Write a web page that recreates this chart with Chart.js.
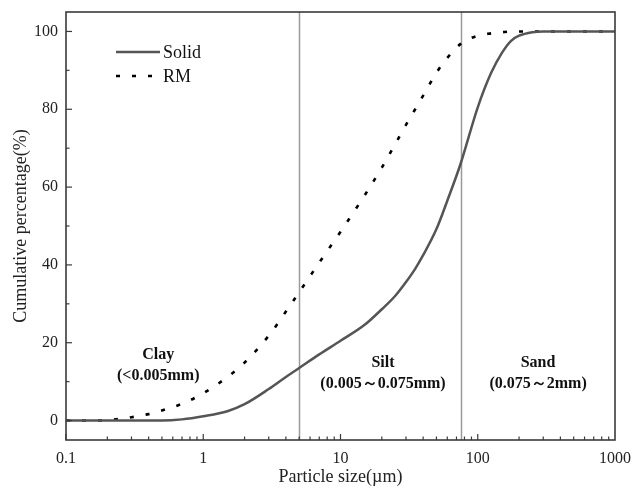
<!DOCTYPE html>
<html>
<head>
<meta charset="utf-8">
<script src="https://cdn.jsdelivr.net/npm/chart.js@4.4.1/dist/chart.umd.min.js"></script>
<style>
  html, body { margin: 0; padding: 0; background: #fff; }
  #wrap { width: 632px; height: 488px; }
</style>
</head>
<body>
<div id="wrap"><canvas id="psd"></canvas></div>
<script>
// particle sizes (um) and cumulative passing (%)
const sizes = [0.1, 0.15, 0.2, 0.3, 0.4, 0.5, 0.7, 1, 1.5, 2, 3, 4, 5, 7, 10, 15, 20, 25, 30, 35, 40, 50, 60, 75, 100, 125, 150, 175, 200, 250, 300, 500, 1000];
const solidPct = [0, 0, 0, 0, 0, 0, 0.3, 1.1, 2.4, 4.2, 8.1, 11.2, 13.5, 17.0, 20.5, 24.6, 28.6, 32.0, 35.6, 39.0, 42.5, 49.2, 56.5, 66.0, 80.5, 89.3, 94.5, 97.6, 98.9, 99.8, 100, 100, 100];
const rmPct = [0, 0, 0.1, 0.85, 1.65, 2.6, 4.3, 7.0, 11.2, 14.9, 21.8, 28.0, 33.0, 40.6, 48.5, 57.9, 65.0, 71.0, 76.0, 80.0, 83.5, 89.4, 93.2, 96.8, 98.9, 99.5, 99.8, 100, 100, 100, 100, 100, 100];

const xMajor = [0.1, 1, 10, 100, 1000];
const yMajor = [0, 20, 40, 60, 80, 100];
const boundaries = [5, 75]; // clay/silt and silt/sand limits in um

// zone labels: [x (um), y of first line, text line 1, text line 2]
const zones = [
  [0.47, 16.9, 'Clay', '(<0.005mm)'],
  [20.4, 14.9, 'Silt', '(0.005～0.075mm)'],
  [275, 14.8, 'Sand', '(0.075～2mm)']
];

const serif = '"Liberation Serif", "Times New Roman", serif';

function pts(xs, ys) {
  return xs.map((x, i) => ({ x: x, y: ys[i] }));
}

const decorPlugin = {
  id: 'decor',
  beforeDatasetsDraw(chart) {
    const { ctx, chartArea: a, scales: { x, y } } = chart;
    ctx.save();
    // boundary lines
    ctx.strokeStyle = '#9a9a9a';
    ctx.lineWidth = 1.5;
    boundaries.forEach(b => {
      const px = Math.round(x.getPixelForValue(b)) + 0.5;
      ctx.beginPath();
      ctx.moveTo(px, a.top);
      ctx.lineTo(px, a.bottom);
      ctx.stroke();
    });
    // zone labels
    ctx.fillStyle = '#111';
    ctx.font = 'bold 16px ' + serif;
    ctx.textAlign = 'center';
    ctx.textBaseline = 'middle';
    zones.forEach(z => {
      const px = x.getPixelForValue(z[0]);
      const py = y.getPixelForValue(z[1]);
      ctx.fillText(z[2], px, py);
      ctx.fillText(z[3], px, py + 21);
    });
    ctx.restore();
  },
  afterDraw(chart) {
    const { ctx, chartArea: a, scales: { x, y } } = chart;
    ctx.save();
    // frame
    ctx.strokeStyle = '#3a3a3a';
    ctx.lineWidth = 1.6;
    ctx.strokeRect(a.left, a.top, a.right - a.left, a.bottom - a.top);
    // inward ticks on x
    ctx.lineWidth = 1.2;
    for (let d = 0.1; d < 1000; d *= 10) {
      for (let m = 1; m <= 9; m++) {
        const px = x.getPixelForValue(d * m);
        const len = m === 1 ? 6 : 3.5;
        ctx.beginPath();
        ctx.moveTo(px, a.bottom);
        ctx.lineTo(px, a.bottom - len);
        ctx.stroke();
      }
    }
    // inward ticks on y
    for (let v = 0; v <= 100; v += 10) {
      const py = y.getPixelForValue(v);
      const len = v % 20 === 0 ? 6 : 3.5;
      ctx.beginPath();
      ctx.moveTo(a.left, py);
      ctx.lineTo(a.left + len, py);
      ctx.stroke();
    }
    // legend
    const ds = chart.data.datasets;
    ctx.font = '18px ' + serif;
    ctx.textAlign = 'left';
    ctx.textBaseline = 'middle';
    ds.forEach((d, i) => {
      const ly = 52 + i * 24;
      ctx.strokeStyle = d.borderColor;
      ctx.lineWidth = d.borderWidth;
      ctx.setLineDash(d.borderDash || []);
      ctx.beginPath();
      ctx.moveTo(116, ly);
      ctx.lineTo(160, ly);
      ctx.stroke();
      ctx.setLineDash([]);
      ctx.fillStyle = '#111';
      ctx.fillText(d.label, 163, ly + 1);
    });
    ctx.restore();
  }
};

new Chart(document.getElementById('psd'), {
  type: 'scatter',
  data: {
    datasets: [
      {
        label: 'Solid',
        data: pts(sizes, solidPct),
        showLine: true,
        borderColor: '#555555',
        borderWidth: 2.5,
        pointRadius: 0,
        cubicInterpolationMode: 'monotone'
      },
      {
        label: 'RM',
        data: pts(sizes, rmPct),
        showLine: true,
        borderColor: '#000000',
        borderWidth: 2.6,
        borderDash: [4, 12],
        pointRadius: 0,
        cubicInterpolationMode: 'monotone'
      }
    ]
  },
  options: {
    responsive: true,
    maintainAspectRatio: false,
    animation: false,
    layout: { padding: { top: 12, right: 17, left: 0, bottom: 0 } },
    plugins: {
      legend: { display: false },
      tooltip: { enabled: false }
    },
    scales: {
      x: {
        type: 'logarithmic',
        min: 0.1,
        max: 1000,
        afterBuildTicks: s => { s.ticks = xMajor.map(v => ({ value: v })); },
        afterFit: s => { s.height = 48; s.paddingLeft = 0; s.paddingRight = 0; },
        grid: { display: false, drawTicks: false },
        border: { display: false },
        ticks: {
          padding: 9,
          color: '#222',
          font: { family: serif, size: 16 },
          maxRotation: 0,
          callback: v => String(v)
        },
        title: {
          display: true,
          text: 'Particle size(µm)',
          color: '#222',
          font: { family: serif, size: 18 },
          padding: { top: 0, bottom: 0 }
        }
      },
      y: {
        min: -5,
        max: 105,
        afterBuildTicks: s => { s.ticks = yMajor.map(v => ({ value: v })); },
        afterFit: s => { s.width = 66; s.paddingTop = 0; s.paddingBottom = 0; },
        grid: { display: false, drawTicks: false },
        border: { display: false },
        ticks: {
          padding: 8,
          color: '#222',
          font: { family: serif, size: 16 }
        },
        title: {
          display: true,
          text: 'Cumulative percentage(%)',
          color: '#222',
          font: { family: serif, size: 18 },
          padding: { top: 10, bottom: 0 }
        }
      }
    }
  },
  plugins: [decorPlugin]
});
</script>
</body>
</html>
